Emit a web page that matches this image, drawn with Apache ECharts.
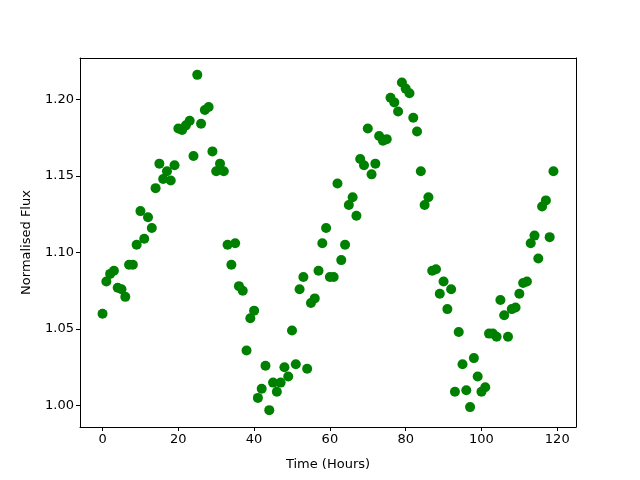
<!DOCTYPE html>
<html>
<head>
<meta charset="utf-8">
<script src="https://cdn.jsdelivr.net/npm/echarts@6/dist/echarts.min.js"></script>
<style>
    html, body {margin: 0; padding: 0; background: #fff;}
    #main {width: 640px; height: 480px;}
</style>
</head>
<body>
<div id="main"></div>
<script>
// time in hours, one reading per hour
var hours = [];
for (var i = 0; i < 120; i++) {
    hours.push(i)
}

var flux = [
    1.060, 1.081, 1.086, 1.088, 1.077, 1.076, 1.071, 1.092, 1.092, 1.105,
    1.127, 1.109, 1.123, 1.116, 1.142, 1.158, 1.148, 1.153, 1.147, 1.157,
    1.181, 1.180, 1.183, 1.186, 1.163, 1.216, 1.184, 1.193, 1.195, 1.166,
    1.153, 1.158, 1.153, 1.105, 1.092, 1.106, 1.078, 1.075, 1.036, 1.057,
    1.062, 1.005, 1.011, 1.026, 0.997, 1.015, 1.009, 1.015, 1.025, 1.019,
    1.049, 1.027, 1.076, 1.084, 1.024, 1.067, 1.070, 1.088, 1.106, 1.116,
    1.084, 1.084, 1.145, 1.095, 1.105, 1.131, 1.136, 1.124, 1.161, 1.157,
    1.181, 1.151, 1.158, 1.176, 1.173, 1.174, 1.201, 1.198, 1.192, 1.211,
    1.207, 1.204, 1.188, 1.179, 1.153, 1.131, 1.136, 1.088, 1.089, 1.073,
    1.081, 1.063, 1.076, 1.009, 1.048, 1.027, 1.010, 0.999, 1.031, 1.019,
    1.009, 1.012, 1.047, 1.047, 1.045, 1.069, 1.059, 1.045, 1.063, 1.064,
    1.073, 1.080, 1.081, 1.106, 1.111, 1.096, 1.130, 1.134, 1.110, 1.153
];

var xTicks = [0, 20, 40, 60, 80, 100, 120];
var yTicks = [1.00, 1.05, 1.10, 1.15, 1.20];

var points = [];
for (var i = 0; i < hours.length; i++) {
    points.push([hours[i], flux[i]])
}

var myChart = echarts.init(document.getElementById('main'));
var txt = {fontFamily: 'DejaVu Sans', fontSize: 13, color: '#000'};
var spine = {show: true, onZero: false, lineStyle: {color: '#000', width: 1}};

var option = {
    animation: false,
    grid: {left: 80, right: 64, top: 58, bottom: 53},
    xAxis: [{
        type: 'value',
        min: -5.95,
        max: 124.95,
        name: 'Time (Hours)',
        nameLocation: 'middle',
        nameGap: 31,
        nameTextStyle: txt,
        axisLine: spine,
        axisTick: {show: true, length: 4, lineStyle: {color: '#000'}, customValues: xTicks},
        axisLabel: {margin: 6, fontFamily: 'DejaVu Sans', fontSize: 13, color: '#000', customValues: xTicks},
        splitLine: {show: false}
    }, {
        // top spine
        type: 'value', position: 'top', min: -5.95, max: 124.95,
        axisLine: spine, axisTick: {show: false}, axisLabel: {show: false}, splitLine: {show: false}
    }],
    yAxis: [{
        type: 'value',
        min: 0.986,
        max: 1.227,
        name: 'Normalised Flux',
        nameLocation: 'middle',
        nameGap: 47,
        nameTextStyle: txt,
        axisLine: spine,
        axisTick: {show: true, length: 4, lineStyle: {color: '#000'}, customValues: yTicks},
        axisLabel: {
            margin: 6, fontFamily: 'DejaVu Sans', fontSize: 13, color: '#000', customValues: yTicks,
            formatter: function (v) { return v.toFixed(2) }
        },
        splitLine: {show: false}
    }, {
        // right spine
        type: 'value', position: 'right', min: 0.986, max: 1.227,
        axisLine: spine, axisTick: {show: false}, axisLabel: {show: false}, splitLine: {show: false}
    }],
    series: [{
        type: 'scatter',
        data: points,
        symbolSize: 10,
        itemStyle: {color: '#008000', opacity: 1}
    }]
};

myChart.setOption(option);
</script>
</body>
</html>
